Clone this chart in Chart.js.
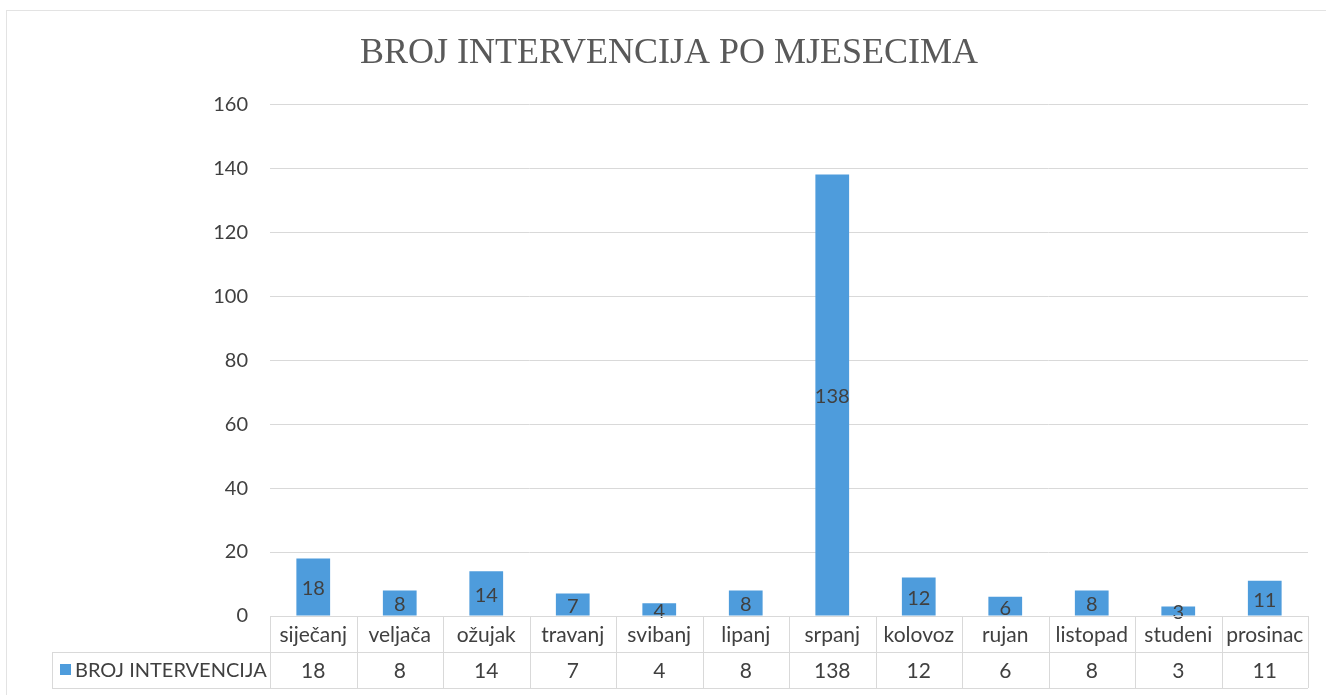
<!DOCTYPE html>
<html>
<head>
<meta charset="utf-8">
<script src="https://cdn.jsdelivr.net/npm/chart.js@4.4.1/dist/chart.umd.min.js"></script>
<style>
  html, body { margin: 0; padding: 0; background: #fff; }
</style>
</head>
<body>
<canvas id="chart" width="1326" height="695"></canvas>
<script>
var titleText = "BROJ INTERVENCIJA PO MJESECIMA";
var seriesName = "BROJ INTERVENCIJA";
var months = ["siječanj", "veljača", "ožujak", "travanj", "svibanj", "lipanj",
  "srpanj", "kolovoz", "rujan", "listopad", "studeni", "prosinac"];
var interventions = [18, 8, 14, 7, 4, 8, 138, 12, 6, 8, 3, 11];
var yMin = 0, yMax = 160, yStep = 20;

var barColor = "#4e9cdc";
var textColor = "#404040";
var lineColor = "#d9d9d9";
var sansFont = "Lato";

// white page + thin frame round the chart
var framePlugin = {
  id: "frame",
  beforeDraw: function (chart) {
    var ctx = chart.ctx;
    ctx.save();
    ctx.fillStyle = "#fff";
    ctx.fillRect(0, 0, chart.width, chart.height);
    ctx.strokeStyle = "#e3e3e3";
    ctx.lineWidth = 1;
    ctx.strokeRect(6.5, 10.5, chart.width, chart.height);
    ctx.restore();
  }
};

// value in the middle of every bar
var valuePlugin = {
  id: "values",
  afterDatasetsDraw: function (chart) {
    var ctx = chart.ctx;
    var meta = chart.getDatasetMeta(0);
    ctx.save();
    ctx.font = "20px " + sansFont;
    ctx.fillStyle = textColor;
    ctx.textAlign = "center";
    ctx.textBaseline = "middle";
    meta.data.forEach(function (bar, i) {
      ctx.fillText(String(interventions[i]), bar.x, (bar.y + bar.base) / 2 + 2);
    });
    ctx.restore();
  }
};

// data table under the plot, like in the spreadsheet
var tablePlugin = {
  id: "dataTable",
  afterDraw: function (chart) {
    var ctx = chart.ctx;
    var xs = chart.scales.x;
    var area = chart.chartArea;
    var n = months.length;
    var step = (area.right - area.left) / n;
    var top = Math.round(area.bottom);
    var mid = top + 36;
    var bot = mid + 36;
    var legendLeft = 52;

    ctx.save();
    ctx.strokeStyle = lineColor;
    ctx.lineWidth = 1;
    ctx.beginPath();
    ctx.moveTo(area.left, top + 0.5); ctx.lineTo(area.right, top + 0.5);
    ctx.moveTo(legendLeft, mid + 0.5); ctx.lineTo(area.right, mid + 0.5);
    ctx.moveTo(legendLeft, bot + 0.5); ctx.lineTo(area.right, bot + 0.5);
    ctx.moveTo(legendLeft + 0.5, mid); ctx.lineTo(legendLeft + 0.5, bot);
    for (var i = 0; i <= n; i++) {
      var lx = Math.round(area.left + i * step) + 0.5;
      ctx.moveTo(lx, top); ctx.lineTo(lx, bot);
    }
    ctx.stroke();

    ctx.font = "21px " + sansFont;
    ctx.fillStyle = textColor;
    ctx.textBaseline = "middle";
    ctx.textAlign = "center";
    for (var j = 0; j < n; j++) {
      var cx = xs.getPixelForValue(j);
      ctx.fillText(months[j], cx, top + 19);
      ctx.fillText(String(interventions[j]), cx, mid + 19);
    }

    ctx.fillStyle = barColor;
    ctx.fillRect(legendLeft + 8, mid + 12, 11, 11);
    ctx.fillStyle = textColor;
    ctx.font = "20px " + sansFont;
    ctx.textAlign = "left";
    ctx.fillText(seriesName, legendLeft + 23, mid + 19);
    ctx.restore();
  }
};

new Chart(document.getElementById("chart"), {
  type: "bar",
  data: {
    labels: months,
    datasets: [{
      label: seriesName,
      data: interventions,
      backgroundColor: barColor,
      borderWidth: 0,
      categoryPercentage: 1,
      barPercentage: 0.39
    }]
  },
  options: {
    responsive: false,
    devicePixelRatio: 1,
    animation: false,
    layout: { padding: { left: 30, right: 18, top: 0, bottom: 79 } },
    plugins: {
      legend: { display: false },
      tooltip: { enabled: false },
      title: {
        display: true,
        text: titleText,
        color: "#595959",
        font: { family: "Liberation Serif", size: 36, weight: "normal" },
        padding: { top: 32, bottom: 29 }
      }
    },
    scales: {
      x: {
        grid: { display: false, drawTicks: false },
        border: { display: false },
        ticks: { display: false }
      },
      y: {
        min: yMin,
        max: yMax,
        ticks: {
          stepSize: yStep,
          color: textColor,
          font: { family: sansFont, size: 20 },
          padding: 22
        },
        grid: { color: lineColor, drawTicks: false },
        border: { display: false },
        afterFit: function (scale) { scale.width = 240; }
      }
    }
  },
  plugins: [framePlugin, valuePlugin, tablePlugin]
});
</script>
</body>
</html>
